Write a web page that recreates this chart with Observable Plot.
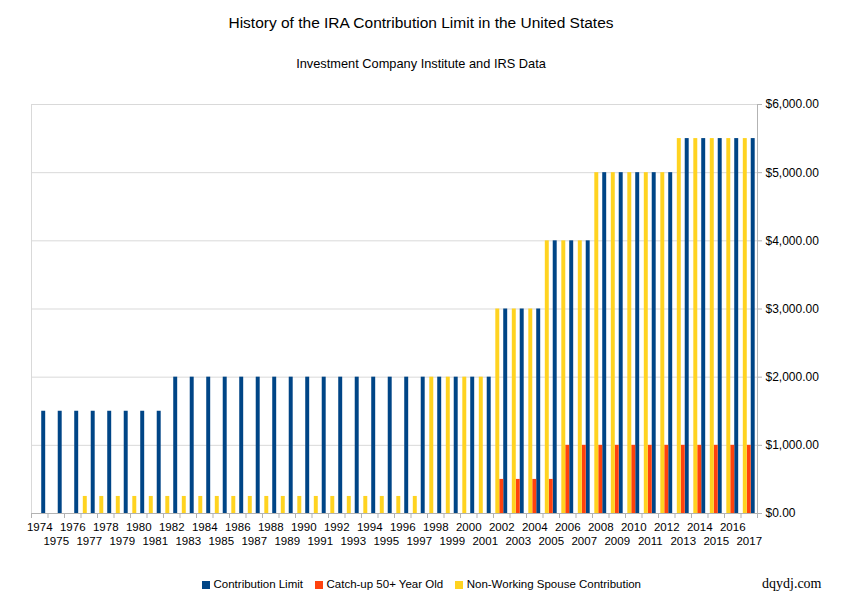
<!DOCTYPE html>
<html>
<head>
<meta charset="utf-8">
<script src="https://cdn.jsdelivr.net/npm/d3@7"></script>
<script src="https://cdn.jsdelivr.net/npm/@observablehq/plot@0.6"></script>
<style>
  html, body { margin: 0; padding: 0; background: #fff; }
  #root { position: relative; width: 842px; height: 598px; overflow: hidden; font-family: "Liberation Sans", Arial, sans-serif; color: #000; }
  .abs { position: absolute; white-space: nowrap; line-height: 1; }
  #title { top: 15px; left: 0; width: 842px; text-align: center; font-size: 15.5px; }
  #subtitle { top: 58px; left: 0; width: 842px; text-align: center; font-size: 12.8px; }
  #chart { top: 90px; left: 0; }
  #legend { top: 568px; left: 0; width: 842px; }
  #credit { top: 577px; left: 762px; font-family: "Liberation Serif", "Times New Roman", serif; font-size: 14px; }
  .leg-swatch > svg { margin-right: 4px !important; }
</style>
</head>
<body>
<div id="root">
  <div id="title" class="abs">History of the IRA Contribution Limit in the United States</div>
  <div id="subtitle" class="abs">Investment Company Institute and IRS Data</div>
  <div id="chart" class="abs"></div>
  <div id="legend" class="abs"></div>
  <div id="credit" class="abs">dqydj.com</div>
</div>
<script>
// ---- Data ----
const years = [1974,1975,1976,1977,1978,1979,1980,1981,1982,1983,1984,1985,1986,1987,1988,1989,1990,1991,1992,1993,1994,1995,1996,1997,1998,1999,2000,2001,2002,2003,2004,2005,2006,2007,2008,2009,2010,2011,2012,2013,2014,2015,2016,2017];
const seriesNames = ["Contribution Limit", "Catch-up 50+ Year Old", "Non-Working Spouse Contribution"];
const contributionLimit = [1500,1500,1500,1500,1500,1500,1500,1500,2000,2000,2000,2000,2000,2000,2000,2000,2000,2000,2000,2000,2000,2000,2000,2000,2000,2000,2000,2000,3000,3000,3000,4000,4000,4000,5000,5000,5000,5000,5000,5500,5500,5500,5500,5500];
const catchUp50 = [0,0,0,0,0,0,0,0,0,0,0,0,0,0,0,0,0,0,0,0,0,0,0,0,0,0,0,0,500,500,500,500,1000,1000,1000,1000,1000,1000,1000,1000,1000,1000,1000,1000];
const spouseContribution = [0,0,0,250,250,250,250,250,250,250,250,250,250,250,250,250,250,250,250,250,250,250,250,250,2000,2000,2000,2000,3000,3000,3000,4000,4000,4000,5000,5000,5000,5000,5000,5500,5500,5500,5500,5500];
const yTicks = [0,1000,2000,3000,4000,5000,6000];

// ---- Layout / style ----
const colors = ["#004586", "#ff420e", "#ffd320"];
const groupOffset = {"Contribution Limit": 0.24, "Catch-up 50+ Year Old": 0, "Non-Working Spouse Contribution": -0.24};
const barWidth = 0.24;
const xDomain = [years[0] - 0.5, years[years.length - 1] + 0.5];
const boundaries = [xDomain[0], ...years.map(y => y + 0.5)];
const evenYears = years.filter(y => y % 2 === 0);
const oddYears = years.filter(y => y % 2 === 1);

const valuesBySeries = [contributionLimit, catchUp50, spouseContribution];
const rows = years.flatMap((year, i) => seriesNames.map((s, j) => ({year, series: s, value: valuesBySeries[j][i]})))
  .filter(d => d.value > 0);

const axisGray = "#b3b3b3";
const gridGray = "#d9d9d9";
const font = "'Liberation Sans', Arial, sans-serif";

const chart = Plot.plot({
  width: 842,
  height: 470,
  marginTop: 14,
  marginBottom: 47,
  marginLeft: 31,
  marginRight: 85,
  style: {fontFamily: font, fontSize: "11px", color: "#000", background: "transparent", overflow: "visible"},
  x: {type: "linear", domain: xDomain, axis: null},
  y: {domain: [0, 6000], axis: null},
  color: {domain: seriesNames, range: colors},
  marks: [
    Plot.gridY(yTicks, {stroke: gridGray, strokeOpacity: 1}),
    Plot.ruleX([xDomain[0]], {stroke: gridGray}),
    Plot.rectY(rows, {
      x1: d => d.year + groupOffset[d.series] - barWidth / 2,
      x2: d => d.year + groupOffset[d.series] + barWidth / 2,
      y: "value",
      fill: "series",
      inset: 0
    }),
    Plot.ruleY([0], {stroke: axisGray}),
    Plot.ruleX([xDomain[1]], {stroke: axisGray}),
    Plot.axisX({ticks: boundaries, tickSize: 5, tickFormat: () => "", label: null, stroke: axisGray, strokeOpacity: 1}),
    Plot.axisX({ticks: evenYears, tickSize: 0, tickPadding: 9, tickFormat: d => String(d), label: null, fontSize: 11.5, fill: "#000"}),
    Plot.axisX({ticks: oddYears, tickSize: 0, tickPadding: 23, tickFormat: d => String(d), label: null, fontSize: 11.5, fill: "#000"}),
    Plot.axisY({anchor: "right", ticks: yTicks, tickSize: 4, tickPadding: 4, label: null, stroke: axisGray, strokeOpacity: 1,
      tickFormat: d => "$" + d3.format(",.2f")(d), fontSize: 12, fill: "#000"})
  ]
});
document.getElementById("chart").appendChild(chart);

const legend = Plot.legend({
  color: {domain: seriesNames, range: colors},
  legend: "swatches",
  swatchSize: 8,
  className: "leg",
  style: {fontFamily: font, fontSize: "11.5px", color: "#000", justifyContent: "center", marginLeft: "12px"}
});
document.getElementById("legend").appendChild(legend);
</script>
</body>
</html>
